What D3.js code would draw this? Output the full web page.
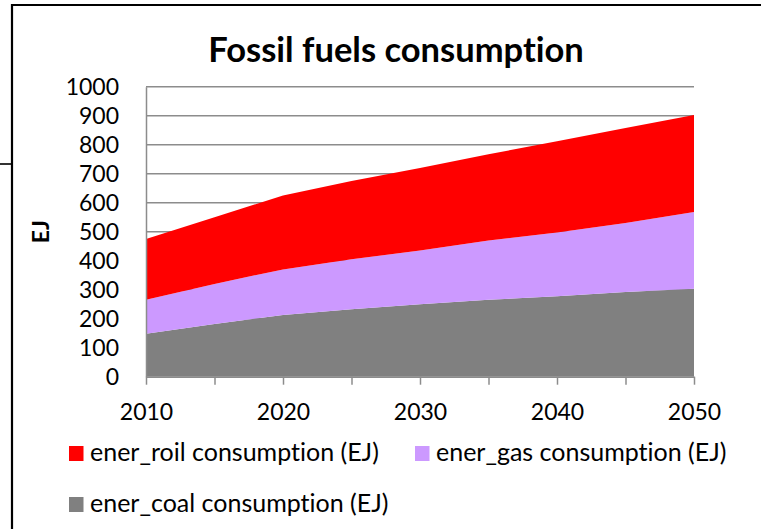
<!DOCTYPE html>
<html>
<head>
<meta charset="utf-8">
<script src="https://cdn.jsdelivr.net/npm/d3@7/dist/d3.min.js"></script>
<style>
  html, body { margin: 0; padding: 0; background: #fff; }
  svg { display: block; font-family: Lato, "Open Sans", sans-serif; }
  svg text { font-variant-ligatures: none; font-feature-settings: "liga" 0, "clig" 0; }
</style>
</head>
<body>
<svg id="chart" width="761" height="529"></svg>
<script>
// Projected fossil fuel consumption, EJ per year
const years = [2010, 2015, 2020, 2025, 2030, 2035, 2040, 2045, 2050];
const coal  = [148, 182, 213, 233, 250, 265, 277, 292, 303];
const gas   = [117, 138, 157, 172, 185, 205, 220, 238, 265];
const roil  = [210, 230, 255, 270, 285, 297, 315, 328, 334];

const seriesKeys   = ["coal", "gas", "roil"];
const seriesLabels = {
  roil: "ener_roil consumption (EJ)",
  gas:  "ener_gas consumption (EJ)",
  coal: "ener_coal consumption (EJ)"
};
const seriesColors = { roil: "#FF0000", gas: "#CC99FF", coal: "#808080" };
const yTicks = [0, 100, 200, 300, 400, 500, 600, 700, 800, 900, 1000];
const xLabelTicks = [2010, 2020, 2030, 2040, 2050];
const xMinorTicks = [2010, 2015, 2020, 2025, 2030, 2035, 2040, 2045, 2050];

const rows = years.map((y, i) => ({ year: y, coal: coal[i], gas: gas[i], roil: roil[i] }));

const svg = d3.select("#chart");
const plot = { left: 146, right: 694, top: 86.7, bottom: 376.7 };

const x = d3.scaleLinear().domain([2010, 2050]).range([plot.left, plot.right]);
const y = d3.scaleLinear().domain([0, 1000]).range([plot.bottom, plot.top]);

// Frame lines around the chart object
svg.append("line").attr("x1", 12).attr("x2", 761).attr("y1", 5).attr("y2", 5)
  .attr("stroke", "#000").attr("stroke-width", 2.2);
svg.append("line").attr("x1", 12).attr("x2", 12).attr("y1", 4).attr("y2", 529)
  .attr("stroke", "#000").attr("stroke-width", 2.2);
svg.append("line").attr("x1", 0).attr("x2", 12).attr("y1", 164).attr("y2", 164)
  .attr("stroke", "#000").attr("stroke-width", 1.6);

// Title
svg.append("text")
  .attr("x", 396).attr("y", 62)
  .attr("text-anchor", "middle")
  .attr("font-weight", "bold")
  .attr("font-size", 34.5)
  .attr("fill", "#000")
  .text("Fossil fuels consumption");

// Horizontal gridlines
svg.append("g").selectAll("line").data(yTicks.filter(d => d > 0)).join("line")
  .attr("x1", plot.left).attr("x2", plot.right)
  .attr("y1", d => y(d)).attr("y2", d => y(d))
  .attr("stroke", "#8c8c8c").attr("stroke-width", 1.5);

// Stacked areas
const stack = d3.stack().keys(seriesKeys);
const layers = stack(rows);
const area = d3.area()
  .x(d => x(d.data.year))
  .y0(d => y(d[0]))
  .y1(d => y(d[1]));

svg.append("g").selectAll("path").data(layers).join("path")
  .attr("d", area)
  .attr("fill", d => seriesColors[d.key]);

// Y axis
const yAxis = d3.axisLeft(y).tickValues(yTicks).tickSize(0).tickPadding(27)
  .tickFormat(d3.format("d"));
const gy = svg.append("g").attr("transform", `translate(${plot.left},0)`).call(yAxis);
gy.select(".domain").attr("stroke", "#8c8c8c").attr("stroke-width", 1.5);
gy.selectAll("text").attr("font-size", 23).attr("font-family", "Lato, sans-serif").attr("fill", "#000");

// X axis: ticks every 5 years, labels every 10
const xAxis = d3.axisBottom(x).tickValues(xMinorTicks).tickSize(8).tickSizeOuter(0)
  .tickFormat(d => xLabelTicks.includes(d) ? String(d) : "");
const gx = svg.append("g").attr("transform", `translate(0,${plot.bottom})`).call(xAxis);
gx.select(".domain").attr("stroke", "#8c8c8c").attr("stroke-width", 1.5);
gx.selectAll(".tick line").attr("stroke", "#8c8c8c").attr("stroke-width", 1.5);
gx.selectAll("text").attr("font-size", 23).attr("font-family", "Lato, sans-serif")
  .attr("fill", "#000").attr("y", 43.5).attr("dy", 0);

// Y axis title
svg.append("text")
  .attr("transform", `translate(49,${(plot.top + plot.bottom) / 2}) rotate(-90)`)
  .attr("text-anchor", "middle")
  .attr("font-weight", "bold")
  .attr("font-size", 23)
  .text("EJ");

// Legend
const legendItems = [
  { key: "roil", x: 69, y: 446 },
  { key: "gas",  x: 415, y: 446 },
  { key: "coal", x: 69, y: 497 }
];
const lg = svg.append("g").selectAll("g").data(legendItems).join("g")
  .attr("transform", d => `translate(${d.x},${d.y})`);
lg.append("rect").attr("width", 14.5).attr("height", 15)
  .attr("fill", d => seriesColors[d.key]);
lg.append("text").attr("x", 21).attr("y", 15)
  .attr("font-size", 25)
  .attr("fill", "#000")
  .text(d => seriesLabels[d.key]);
</script>
</body>
</html>
